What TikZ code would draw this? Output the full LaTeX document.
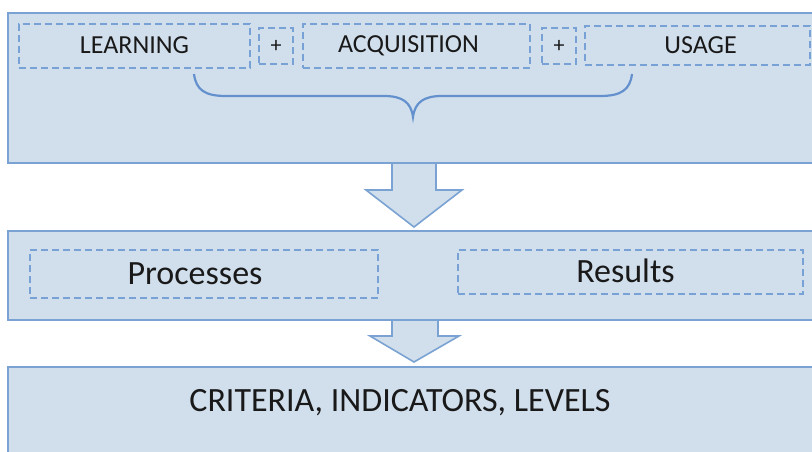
\documentclass[tikz,border=0pt]{standalone}
\usepackage{fontspec}
\setmainfont{Carlito}
\definecolor{boxfill}{RGB}{209,223,237}
\definecolor{boxline}{RGB}{122,162,210}
\definecolor{dashline}{RGB}{120,162,214}
\definecolor{bracecol}{RGB}{100,145,205}
\definecolor{txt}{RGB}{25,25,25}
\begin{document}
\begin{tikzpicture}[x=1pt,y=-1pt,
  panel/.style={draw=boxline,fill=boxfill,line width=2pt,rectangle,inner sep=0pt},
  dbox/.style={draw=dashline,line width=2.8pt,dash pattern=on 7pt off 4pt,rectangle,inner sep=0pt,text=txt},
  toptext/.style={font=\fontsize{26}{30}\selectfont},
  plustext/.style={font=\fontsize{22}{24}\selectfont},
  bigtext/.style={font=\fontsize{34}{40}\selectfont},
  blockarrow/.style={draw=boxline,fill=boxfill,line width=1.6pt,line join=miter},
  bracecurve/.style={draw=bracecol,line width=2.2pt}]
\clip (0,0) rectangle (812,452);
\fill[white] (0,0) rectangle (812,452);
% panels
\node[panel,minimum width=812pt,minimum height=150pt] (top) at (414,88) {};
\node[panel,minimum width=812pt,minimum height=89pt] (mid) at (414,275.5) {};
\node[panel,minimum width=812pt,minimum height=103pt] (bot) at (414,418.5) {};
% top row
\node[dbox,toptext,minimum width=231pt,minimum height=44pt] (learn) at (134.5,46) {\raisebox{1pt}{LEARNING}};
\node[dbox,plustext,minimum width=34pt,minimum height=36pt] (plusa) at (276,46) {\raisebox{-2pt}{+}};
\node[dbox,toptext,minimum width=227pt,minimum height=44pt] (acq) at (416.5,46) {\hspace*{-16pt}\raisebox{1pt}{ACQUISITION}};
\node[dbox,plustext,minimum width=34pt,minimum height=36pt] (plusb) at (559,46) {\raisebox{-2pt}{+}};
\node[dbox,toptext,minimum width=225pt,minimum height=39pt] (usage) at (697.5,45.5) {\hspace*{6pt}\raisebox{-2pt}{USAGE}};
% brace
\draw[bracecurve] (194,74) .. controls (196,90) and (205,96) .. (226,96) -- (384,96)
  .. controls (402,96) and (411,102) .. (413,117)
  .. controls (415,102) and (424,96) .. (442,96) -- (600,96)
  .. controls (621,96) and (630,90) .. (632,74);
% arrow 1
\path[blockarrow] ([xshift=-22pt]top.south) -- ++(0,26) -- ++(-26,0) -- ([yshift=3pt]mid.north)
  -- ([xshift=48pt,yshift=-26pt]top.south) -- ([xshift=22pt,yshift=-26pt]top.south) -- ([xshift=22pt]top.south);
% middle row
\node[dbox,bigtext,minimum width=348pt,minimum height=48pt] (proc) at (204,274) {\hspace*{-18pt}Processes};
\node[dbox,bigtext,minimum width=345pt,minimum height=44pt] (res) at (630.5,272) {\hspace*{-10pt}\raisebox{2pt}{Results}};
% arrow 2
\path[blockarrow] ([xshift=-22pt]mid.south) -- ++(0,15) -- ++(-22,0) -- ([yshift=4pt]bot.north)
  -- ([xshift=45pt,yshift=-15pt]mid.south) -- ([xshift=24pt,yshift=-15pt]mid.south) -- ([xshift=24pt]mid.south);
% bottom text
\node[bigtext,text=txt,inner sep=0pt] (crit) at (400,403) {CRITERIA, INDICATORS, LEVELS};
\end{tikzpicture}
\end{document}
